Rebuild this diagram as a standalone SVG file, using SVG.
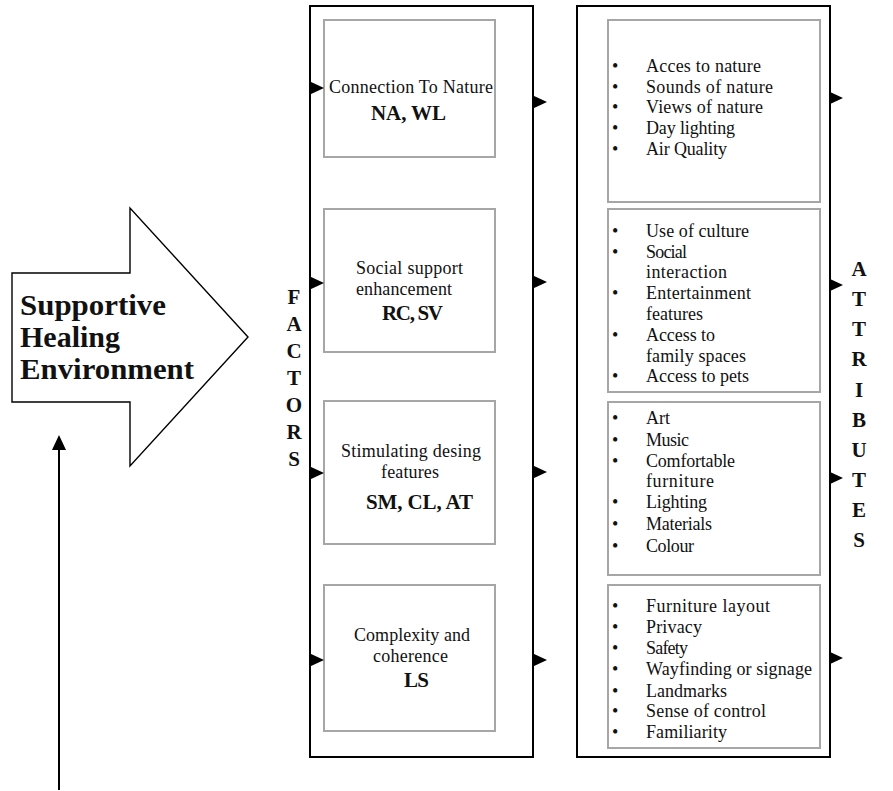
<svg xmlns="http://www.w3.org/2000/svg" width="893" height="791" viewBox="0 0 893 791">
<style>
.outer{fill:#fff;stroke:#000;stroke-width:2}
.inner{fill:#fff;stroke:#a6a6a6;stroke-width:2}
.t{font-family:"Liberation Serif","Times New Roman",serif;font-size:18px;fill:#111}
.b{font-family:"Liberation Serif","Times New Roman",serif;font-size:21px;font-weight:bold;fill:#111}
.big{font-family:"Liberation Serif","Times New Roman",serif;font-size:30px;font-weight:bold;fill:#111}
.v{font-family:"Liberation Serif","Times New Roman",serif;font-size:21px;font-weight:bold;fill:#111;text-anchor:middle}
.line{stroke:#000;stroke-width:2;fill:none}
</style>
<defs>
<polygon id="tri" points="0,-6.5 14,0 0,6.5" fill="#000"/>
</defs>
<rect width="893" height="791" fill="#fff"/>

<g id="main-arrow">
<polygon points="12,273 130,273 130,208 248,337 130,466 130,402 12,402" fill="#fff" stroke="#000" stroke-width="1.4"/>
<text class="big" x="20" y="315" textLength="146" lengthAdjust="spacingAndGlyphs">Supportive</text>
<text class="big" x="20" y="347">Healing</text>
<text class="big" x="20" y="379" textLength="174" lengthAdjust="spacingAndGlyphs">Environment</text>
</g>

<g id="factors-label">
<text class="v" x="294" y="304">F</text>
<text class="v" x="294" y="331">A</text>
<text class="v" x="294" y="358">C</text>
<text class="v" x="294" y="385">T</text>
<text class="v" x="294" y="412">O</text>
<text class="v" x="294" y="439">R</text>
<text class="v" x="294" y="466">S</text>
</g>

<g id="factors">
<rect class="outer" x="310" y="6" width="223" height="751"/>
</g>
<g id="factor-nature">
<rect class="inner" x="324" y="20" width="171" height="137"/>
<text class="t" x="329" y="93" textLength="164" lengthAdjust="spacing">Connection To Nature</text>
<text class="b" x="371" y="120" textLength="75" lengthAdjust="spacing">NA, WL</text>
</g>
<g id="factor-social">
<rect class="inner" x="324" y="209" width="171" height="143"/>
<text class="t" x="356" y="274" textLength="107" lengthAdjust="spacing">Social support</text>
<text class="t" x="356" y="295" textLength="96" lengthAdjust="spacing">enhancement</text>
<text class="b" x="382" y="320" textLength="61" lengthAdjust="spacing">RC, SV</text>
</g>
<g id="factor-stimulating">
<rect class="inner" x="324" y="401" width="171" height="143"/>
<text class="t" x="341" y="457" textLength="140" lengthAdjust="spacing">Stimulating desing</text>
<text class="t" x="381" y="478" textLength="58" lengthAdjust="spacing">features</text>
<text class="b" x="366" y="509" textLength="107" lengthAdjust="spacing">SM, CL, AT</text>
</g>
<g id="factor-complexity">
<rect class="inner" x="324" y="585" width="171" height="146"/>
<text class="t" x="354" y="641" textLength="116" lengthAdjust="spacing">Complexity and</text>
<text class="t" x="373" y="662" textLength="75" lengthAdjust="spacing">coherence</text>
<text class="b" x="404" y="687" textLength="25" lengthAdjust="spacing">LS</text>
</g>

<g id="attributes">
<rect class="outer" x="577" y="6" width="253" height="751"/>
</g>
<g id="attr-nature">
<rect class="inner" x="608" y="20" width="212" height="182"/>
<g class="t">
<text x="612" y="72">•</text><text x="646" y="72" textLength="115" lengthAdjust="spacing">Acces to nature</text>
<text x="612" y="93">•</text><text x="646" y="93" textLength="127" lengthAdjust="spacing">Sounds of nature</text>
<text x="612" y="113">•</text><text x="646" y="113" textLength="117" lengthAdjust="spacing">Views of nature</text>
<text x="612" y="134">•</text><text x="646" y="134" textLength="89" lengthAdjust="spacing">Day lighting</text>
<text x="612" y="155">•</text><text x="646" y="155" textLength="81" lengthAdjust="spacing">Air Quality</text>
</g>
</g>
<g id="attr-social">
<rect class="inner" x="608" y="209" width="212" height="183"/>
<g class="t">
<text x="612" y="237">•</text><text x="646" y="237" textLength="103" lengthAdjust="spacing">Use of culture</text>
<text x="612" y="258">•</text><text x="646" y="258" textLength="41" lengthAdjust="spacing">Social</text>
<text x="646" y="278" textLength="81" lengthAdjust="spacing">interaction</text>
<text x="612" y="299">•</text><text x="646" y="299" textLength="105" lengthAdjust="spacing">Entertainment</text>
<text x="646" y="320" textLength="57" lengthAdjust="spacing">features</text>
<text x="612" y="341">•</text><text x="646" y="341" textLength="69" lengthAdjust="spacing">Access to</text>
<text x="646" y="362" textLength="100" lengthAdjust="spacing">family spaces</text>
<text x="612" y="382">•</text><text x="646" y="382" textLength="103" lengthAdjust="spacing">Access to pets</text>
</g>
</g>
<g id="attr-stimulating">
<rect class="inner" x="608" y="402" width="212" height="173"/>
<g class="t">
<text x="612" y="424">•</text><text x="646" y="424" textLength="24" lengthAdjust="spacing">Art</text>
<text x="612" y="446">•</text><text x="646" y="446" textLength="43" lengthAdjust="spacing">Music</text>
<text x="612" y="467">•</text><text x="646" y="467" textLength="89" lengthAdjust="spacing">Comfortable</text>
<text x="646" y="487" textLength="68" lengthAdjust="spacing">furniture</text>
<text x="612" y="508">•</text><text x="646" y="508" textLength="61" lengthAdjust="spacing">Lighting</text>
<text x="612" y="530">•</text><text x="646" y="530" textLength="66" lengthAdjust="spacing">Materials</text>
<text x="612" y="552">•</text><text x="646" y="552" textLength="48" lengthAdjust="spacing">Colour</text>
</g>
</g>
<g id="attr-complexity">
<rect class="inner" x="608" y="585" width="212" height="163"/>
<g class="t">
<text x="612" y="612">•</text><text x="646" y="612" textLength="124" lengthAdjust="spacing">Furniture layout</text>
<text x="612" y="633">•</text><text x="646" y="633" textLength="56" lengthAdjust="spacing">Privacy</text>
<text x="612" y="654">•</text><text x="646" y="654" textLength="42" lengthAdjust="spacing">Safety</text>
<text x="612" y="675">•</text><text x="646" y="675" textLength="166" lengthAdjust="spacing">Wayfinding or signage</text>
<text x="612" y="697">•</text><text x="646" y="697" textLength="81" lengthAdjust="spacing">Landmarks</text>
<text x="612" y="717">•</text><text x="646" y="717" textLength="120" lengthAdjust="spacing">Sense of control</text>
<text x="612" y="738">•</text><text x="646" y="738" textLength="81" lengthAdjust="spacing">Familiarity</text>
</g>
</g>

<g id="attributes-label">
<text class="v" x="859" y="276">A</text>
<text class="v" x="859" y="306">T</text>
<text class="v" x="859" y="336">T</text>
<text class="v" x="859" y="366">R</text>
<text class="v" x="859" y="397">I</text>
<text class="v" x="859" y="427">B</text>
<text class="v" x="859" y="457">U</text>
<text class="v" x="859" y="487">T</text>
<text class="v" x="859" y="517">E</text>
<text class="v" x="859" y="547">S</text>
</g>

<g id="connectors">
<line class="line" x1="59" y1="790" x2="59" y2="446"/>
<polygon points="59,435 66,450 52,450" fill="#000"/>
<use href="#tri" x="310" y="88"/>
<use href="#tri" x="310" y="283"/>
<use href="#tri" x="310" y="473"/>
<use href="#tri" x="310" y="660"/>
<use href="#tri" x="533" y="102"/>
<use href="#tri" x="533" y="282"/>
<use href="#tri" x="533" y="472"/>
<use href="#tri" x="533" y="660"/>
<use href="#tri" x="829" y="98"/>
<use href="#tri" x="829" y="285"/>
<use href="#tri" x="829" y="478"/>
<use href="#tri" x="829" y="658"/>
</g>
</svg>
